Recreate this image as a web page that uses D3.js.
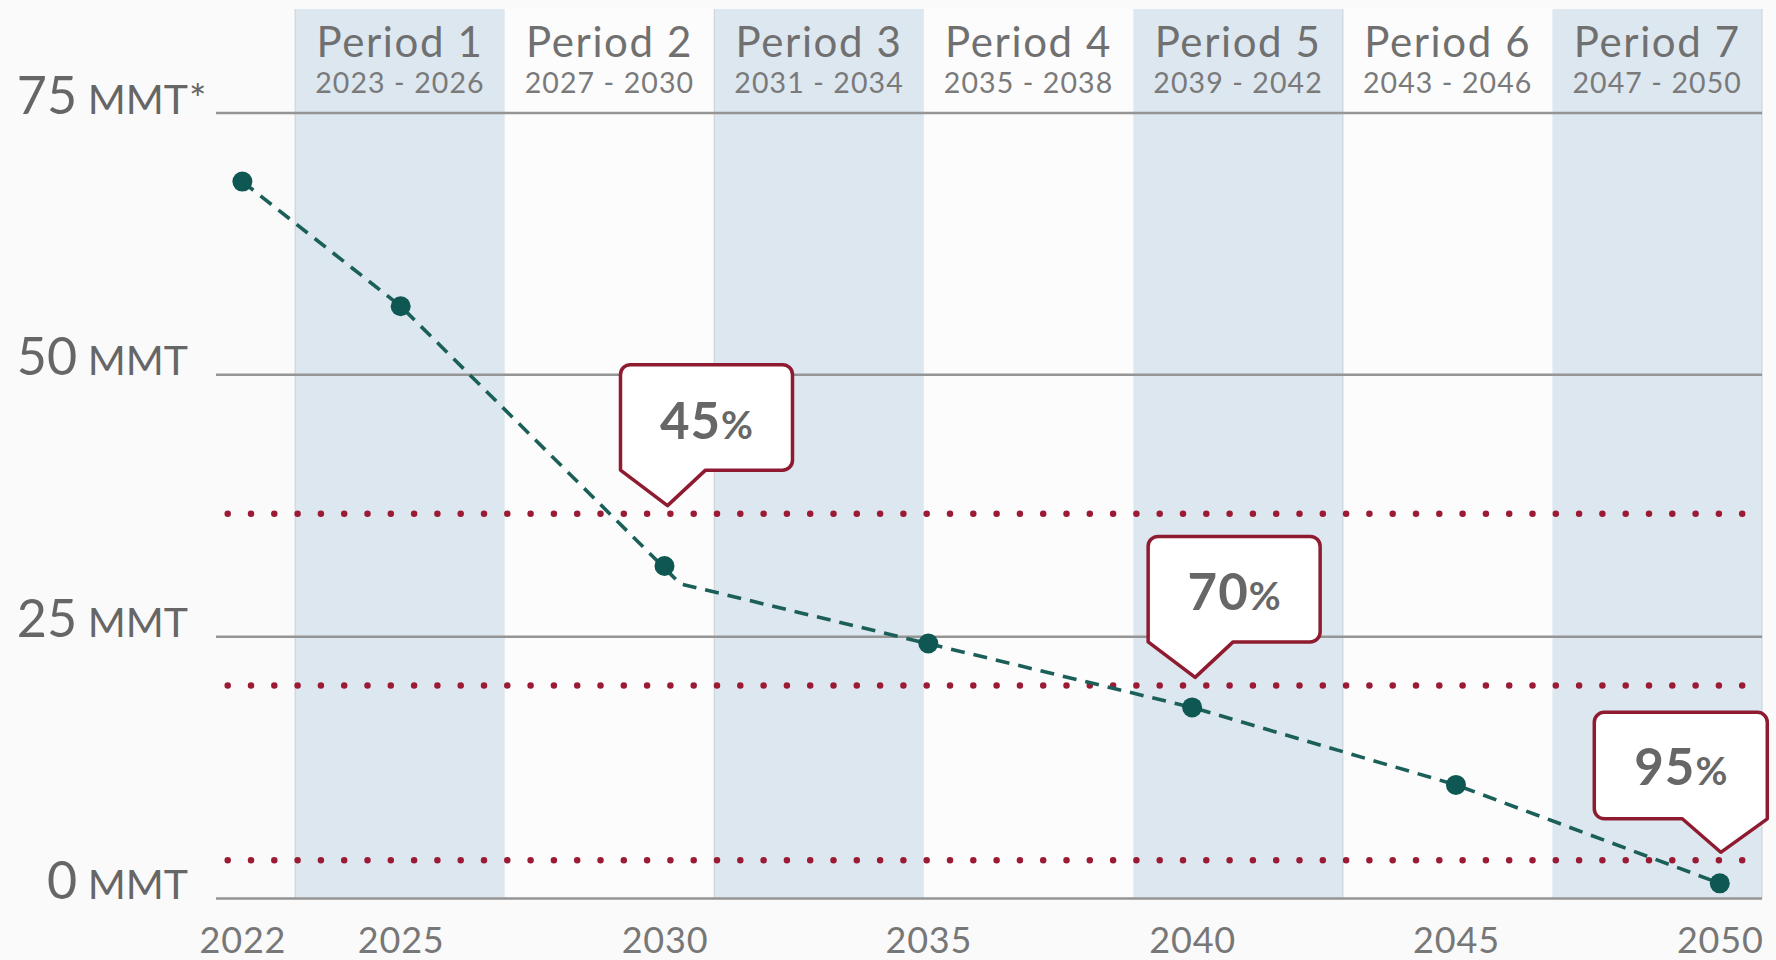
<!DOCTYPE html>
<html>
<head>
<meta charset="utf-8">
<script src="https://cdn.jsdelivr.net/npm/d3@7"></script>
<style>
  html, body { margin: 0; padding: 0; background: #fafafa; }
  svg { display: block; font-family: Lato, "Open Sans", sans-serif; }
</style>
</head>
<body>
<svg id="chart" width="1776" height="960"></svg>
<script>
// ---------- data ----------
const years = [2022, 2025, 2030, 2035, 2040, 2045, 2050];
const emissions = [68.4, 56.5, 31.7, 24.3, 18.2, 10.8, 1.4];
// dashed trend line vertices (the line bends just after the 2030 marker)
const lineYears = [2022, 2025, 2030.3, 2040, 2045, 2050];
const lineValues = [68.4, 56.5, 30.0, 18.2, 10.8, 1.4];
const periods = ["Period 1", "Period 2", "Period 3", "Period 4", "Period 5", "Period 6", "Period 7"];
const periodRanges = ["2023 - 2026", "2027 - 2030", "2031 - 2034", "2035 - 2038", "2039 - 2042", "2043 - 2046", "2047 - 2050"];
const firstPeriodStart = 2023;
const yTicks = [0, 25, 50, 75];
const yTickUnits = ["MMT", "MMT", "MMT", "MMT*"];
const targetLabels = ["45", "70", "95"];
const targetValues = [36.7, 20.3, 3.6];
const targetYears = [2030, 2040, 2050];
const targetSides = ["left", "left", "right"];

// ---------- layout ----------
const W = 1776, H = 960;
const plotLeft = 216, plotRight = 1762, plotTop = 9, plotBottom = 898;
const svg = d3.select("#chart");
svg.append("rect").attr("width", W).attr("height", H).attr("fill", "#fafafa");

const x = d3.scaleLinear().domain([2021.5, 2050.8]).range([plotLeft, plotRight]);
const y = d3.scaleLinear().domain([0, 75]).range([plotBottom, 112.5]);
const band = d3.scaleBand().domain(periods).range([x(firstPeriodStart), plotRight]);

// unshaded period columns (slightly lighter)
svg.append("g").selectAll("rect")
  .data(periods.filter((d, i) => i % 2 === 1))
  .join("rect")
  .attr("x", d => band(d))
  .attr("y", plotTop)
  .attr("width", band.bandwidth())
  .attr("height", plotBottom - plotTop)
  .attr("fill", "#fcfcfc");

// shaded period bands
svg.append("g").selectAll("rect")
  .data(periods.filter((d, i) => i % 2 === 0))
  .join("rect")
  .attr("x", d => band(d))
  .attr("y", plotTop)
  .attr("width", band.bandwidth())
  .attr("height", plotBottom - plotTop)
  .attr("fill", "#dde7f0");

// faint band edges
svg.append("g").selectAll("line")
  .data([periods[0], periods[2], periods[5]])
  .join("line")
  .attr("x1", d => band(d)).attr("x2", d => band(d))
  .attr("y1", plotTop).attr("y2", plotBottom)
  .attr("stroke", "#c9ced3").attr("stroke-width", 1);
svg.append("line")
  .attr("x1", plotRight).attr("x2", plotRight)
  .attr("y1", plotTop).attr("y2", plotBottom)
  .attr("stroke", "#c9ced3").attr("stroke-width", 1);

// period headers
const hdr = svg.append("g");
hdr.selectAll("text.p").data(periods).join("text")
  .attr("class", "p")
  .attr("x", d => band(d) + band.bandwidth() / 2)
  .attr("y", 57)
  .attr("text-anchor", "middle")
  .attr("font-size", 42)
  .attr("letter-spacing", 1.6)
  .attr("fill", "#707070")
  .text(d => d);
hdr.selectAll("text.r").data(periodRanges).join("text")
  .attr("class", "r")
  .attr("x", (d, i) => band(periods[i]) + band.bandwidth() / 2)
  .attr("y", 93)
  .attr("text-anchor", "middle")
  .attr("font-size", 28.5)
  .attr("letter-spacing", 1.1)
  .attr("fill", "#7a7a7a")
  .text(d => d);

// gridlines + y labels
const yAxis = svg.append("g")
  .attr("transform", `translate(${plotLeft},0)`)
  .call(d3.axisLeft(y).tickValues(yTicks).tickSize(-(plotRight - plotLeft)).tickFormat(""));
yAxis.select(".domain").remove();
yAxis.selectAll(".tick line").attr("stroke", "#959595").attr("stroke-width", 2.5);
yAxis.selectAll(".tick text").remove();

const yLab = svg.append("g");
yTicks.forEach((v, i) => {
  const t = yLab.append("text")
    .attr("x", 188).attr("y", y(v) + 1)
    .attr("text-anchor", "end")
    .attr("fill", "#666");
  t.append("tspan").attr("font-size", 52).text(String(v));
  t.append("tspan").attr("font-size", 41).text(" MMT");
  if (yTickUnits[i].endsWith("*")) {
    yLab.append("text").attr("x", 189).attr("y", y(v) + 1)
      .attr("font-size", 41).attr("fill", "#666").text("*");
  }
});

// target dotted lines
svg.append("g").selectAll("line")
  .data(targetValues).join("line")
  .attr("x1", plotLeft + 11.7).attr("x2", plotRight - 2)
  .attr("y1", d => y(d)).attr("y2", d => y(d))
  .attr("stroke", "#9b1b35")
  .attr("stroke-width", 6.5)
  .attr("stroke-linecap", "round")
  .attr("stroke-dasharray", "0 23.3");

// x axis labels
const xAxis = svg.append("g")
  .attr("transform", `translate(0,${plotBottom})`)
  .call(d3.axisBottom(x).tickValues(years).tickFormat(d3.format("d")).tickSize(0));
xAxis.select(".domain").remove();
xAxis.selectAll(".tick text")
  .attr("y", 55).attr("dy", null)
  .attr("font-family", "Lato")
  .attr("font-size", 36)
  .attr("letter-spacing", 0.8)
  .attr("fill", "#777");

// dashed trend line
const lineData = lineYears.map((d, i) => [d, lineValues[i]]);
svg.append("path")
  .datum(lineData)
  .attr("d", d3.line().x(d => x(d[0])).y(d => y(d[1])))
  .attr("fill", "none")
  .attr("stroke", "#1b5f59")
  .attr("stroke-width", 3.6)
  .attr("stroke-dasharray", "14 9");

// markers
svg.append("g").selectAll("circle")
  .data(years).join("circle")
  .attr("cx", d => x(d))
  .attr("cy", (d, i) => y(emissions[i]))
  .attr("r", 10)
  .attr("fill", "#0f5752");

// callouts
function calloutPath(tx, ty, side) {
  const r = 10;
  if (side === "left") {
    const x0 = tx - 47, x1 = tx + 125, y0 = ty - 141, y1 = ty - 35.5, bx = tx + 38;
    return `M${x0 + r},${y0} H${x1 - r} A${r},${r} 0 0 1 ${x1},${y0 + r} V${y1 - r} A${r},${r} 0 0 1 ${x1 - r},${y1} H${bx} L${tx},${ty} L${x0},${y1} V${y0 + r} A${r},${r} 0 0 1 ${x0 + r},${y0} Z`;
  } else {
    const x0 = tx - 126.5, x1 = tx + 46.5, y0 = ty - 140, y1 = ty - 33.5, bx = tx - 38.5;
    return `M${x0 + r},${y0} H${x1 - r} A${r},${r} 0 0 1 ${x1},${y0 + r} V${y1} L${tx},${ty} L${bx},${y1} H${x0 + r} A${r},${r} 0 0 1 ${x0},${y1 - r} V${y0 + r} A${r},${r} 0 0 1 ${x0 + r},${y0} Z`;
  }
}
const co = svg.append("g");
targetLabels.forEach((lab, i) => {
  const tx = x(targetYears[i]) + (targetSides[i] === "left" ? 3 : 1);
  const ty = y(targetValues[i]) - 8;
  co.append("path")
    .attr("d", calloutPath(tx, ty, targetSides[i]))
    .attr("fill", "#ffffff")
    .attr("stroke", "#8e1b30")
    .attr("stroke-width", 3.5)
    .attr("stroke-linejoin", "round");
  const cx = targetSides[i] === "left" ? tx + 39 : tx - 40;
  const t = co.append("text")
    .attr("x", cx).attr("y", ty - 67)
    .attr("text-anchor", "middle")
    .attr("fill", "#676767");
  t.append("tspan").attr("font-size", 51).attr("font-weight", 700).attr("letter-spacing", 1).text(lab);
  t.append("tspan").attr("font-size", 39).attr("font-weight", 700).text("%");
});
</script>
</body>
</html>
